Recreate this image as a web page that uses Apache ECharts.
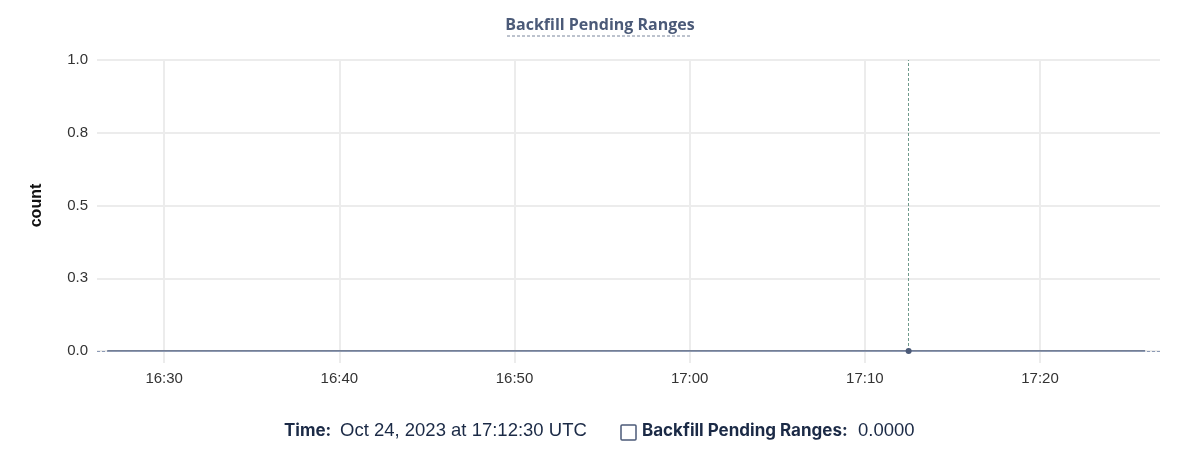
<!DOCTYPE html>
<html>
<head>
<meta charset="utf-8">
<script src="https://cdn.jsdelivr.net/npm/echarts@6/dist/echarts.min.js"></script>
<style>
html,body{margin:0;padding:0;background:#fff;}
#c{width:1200px;height:466px;}
</style>
</head>
<body>
<div id="c"></div>
<script>
// ---- data ----
const titleText = 'Backfill Pending Ranges';
const seriesName = 'Backfill Pending Ranges';
const yAxisName = 'count';
const startTime = Date.UTC(2023, 9, 24, 16, 26, 45);
const endTime = Date.UTC(2023, 9, 24, 17, 26, 0);
const stepMs = 15000;
const hoverTime = Date.UTC(2023, 9, 24, 17, 12, 30);
const hoverValue = 0;
const axisMin = Date.UTC(2023, 9, 24, 16, 26, 10);
const axisMax = Date.UTC(2023, 9, 24, 17, 26, 51);
const xTickTimes = [
  Date.UTC(2023, 9, 24, 16, 30), Date.UTC(2023, 9, 24, 16, 40), Date.UTC(2023, 9, 24, 16, 50),
  Date.UTC(2023, 9, 24, 17, 0), Date.UTC(2023, 9, 24, 17, 10), Date.UTC(2023, 9, 24, 17, 20)
];
const yTicks = [0, 0.25, 0.5, 0.75, 1.0];
const footerTime = 'Oct 24, 2023 at 17:12:30 UTC';
const footerValue = '0.0000';

const times = [];
for (let t = startTime; t <= endTime; t += stepMs) times.push(t);
const values = times.map(() => 0);   // every reading is 0 in the picture
const seriesData = times.map((t, i) => [t, values[i]]);

const chart = echarts.init(document.getElementById('c'));
const navy = '#1b2a46';
const slate = '#4b5a78';
const pad2 = n => String(n).padStart(2, '0');
chart.setOption({
  animation: false,
  grid: { left: 97, right: 40, top: 60, bottom: 115 },
  xAxis: {
    type: 'value',
    min: axisMin, max: axisMax,
    axisLine: { show: false },
    axisTick: { show: true, length: 12, customValues: xTickTimes, lineStyle: { color: '#ececec', width: 2 } },
    splitLine: { show: true, lineStyle: { color: '#ececec', width: 2 } },
    axisLabel: {
      customValues: xTickTimes,
      formatter: v => { const d = new Date(v); return pad2(d.getUTCHours()) + ':' + pad2(d.getUTCMinutes()); },
      color: '#333', fontSize: 15,
      fontFamily: 'Liberation Sans, Arial, sans-serif', margin: 20
    }
  },
  yAxis: {
    type: 'value', min: 0, max: 1, interval: 0.25,
    name: yAxisName, nameLocation: 'middle', nameGap: 52,
    nameTextStyle: { color: '#111', fontSize: 16, fontWeight: 'bold', fontFamily: 'Liberation Sans, Arial, sans-serif' },
    axisLine: { show: false }, axisTick: { show: false },
    splitLine: { lineStyle: { color: '#ececec', width: 2 } },
    axisLabel: {
      formatter: v => v.toFixed(1), color: '#333', fontSize: 15,
      fontFamily: 'Liberation Sans, Arial, sans-serif', margin: 9
    }
  },
  title: {
    text: titleText, left: 'center', top: 12,
    textStyle: { color: slate, fontSize: 16, fontWeight: 'bold', fontFamily: 'Open Sans, sans-serif' }
  },
  graphic: [
    { type: 'line', shape: { x1: 507, y1: 36, x2: 692, y2: 36 }, style: { stroke: '#7a869c', lineWidth: 1, lineDash: [3, 2] } },
    { type: 'text', left: 284, top: 422, style: { text: 'Time:', fill: navy, font: 'bold 17px Inter, sans-serif' } },
    { type: 'text', left: 340, top: 421, style: { text: footerTime, fill: navy, font: '18.5px Liberation Sans, Arial, sans-serif' } },
    { type: 'rect', shape: { x: 621, y: 425, width: 15, height: 15, r: 1 }, style: { fill: '#fff', stroke: slate, lineWidth: 1.5 } },
    { type: 'text', left: 642, top: 422, style: { text: seriesName + ':', fill: navy, font: 'bold 17px Inter, sans-serif' } },
    { type: 'text', left: 858, top: 421, style: { text: footerValue, fill: navy, font: '18.5px Liberation Sans, Arial, sans-serif' } }
  ],
  series: [{
    name: seriesName, type: 'line', data: seriesData,
    showSymbol: false, symbol: 'none',
    lineStyle: { color: slate, width: 1.5 },
    markLine: {
      silent: true, symbol: 'none', label: { show: false },
      data: [
        { xAxis: hoverTime, lineStyle: { color: '#6f9a8c', type: [3, 2], width: 1 } },
        { yAxis: hoverValue, lineStyle: { color: '#8c9ab5', type: [3, 2], width: 1 } }
      ]
    },
    markPoint: {
      silent: true, symbol: 'circle', symbolSize: 6,
      itemStyle: { color: slate },
      label: { show: false },
      data: [{ coord: [hoverTime, hoverValue] }]
    }
  }]
});
</script>
</body>
</html>
